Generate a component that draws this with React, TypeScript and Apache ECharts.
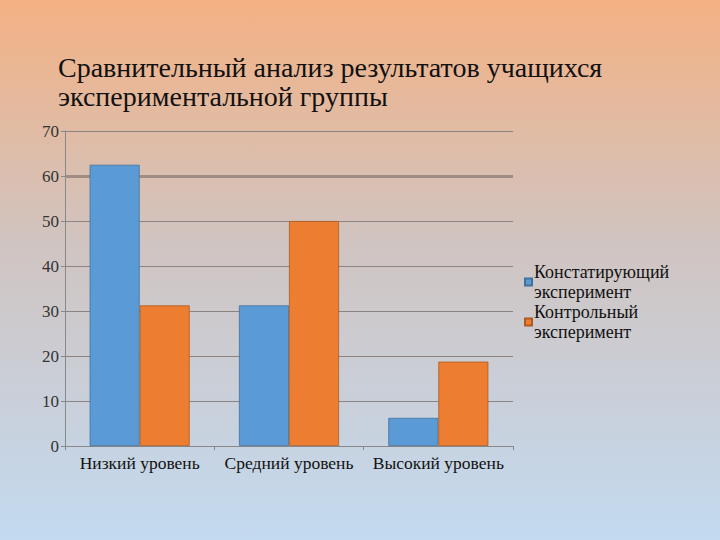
import React, { useEffect, useRef } from "react";
import * as echarts from "echarts";

const categories = ["Низкий уровень", "Средний уровень", "Высокий уровень"];
const seriesNames = ["Констатирующий эксперимент", "Контрольный эксперимент"];
const legendLabels = ["Констатирующий\nэксперимент", "Контрольный\nэксперимент"];
const ascertainingValues = [62.5, 31.25, 6.25];
const controlValues = [31.25, 50, 18.75];
const yTicks = { min: 0, max: 70, interval: 10 };
const titleLines = ["Сравнительный анализ результатов учащихся", "экспериментальной группы"];

const FONT = "Times New Roman, Liberation Serif, serif";

export default function App() {
  const ref = useRef<HTMLDivElement>(null);
  useEffect(() => {
    if (!ref.current) return;
    const chart = echarts.init(ref.current, undefined, { renderer: "svg" });
    chart.setOption({
      animation: false,
      backgroundColor: {
        type: "linear",
        x: 0, y: 0, x2: 0, y2: 1,
        colorStops: [
          { offset: 0, color: "#F4B183" },
          { offset: 0.45, color: "#D0C4C1" },
          { offset: 1, color: "#C3DAF0" },
        ],
      },
      title: {
        text: titleLines.join("\n"),
        left: 53,
        top: 48,
        textStyle: {
          fontFamily: FONT,
          fontSize: 28,
          fontWeight: "normal",
          color: "#111",
          lineHeight: 29,
        },
      },
      legend: {
        orient: "vertical",
        left: 519,
        top: 257,
        itemWidth: 7,
        itemHeight: 7,
        itemGap: 0,
        icon: "rect",
        data: seriesNames,
        formatter: (name: string) => legendLabels[seriesNames.indexOf(name)],
        textStyle: {
          fontFamily: FONT,
          fontSize: 18,
          lineHeight: 20,
          color: "#111",
          padding: [0, 0, 0, -3],
        },
      },
      grid: { left: 65, right: 207, top: 131, bottom: 94 },
      xAxis: {
        type: "category",
        data: categories,
        axisLine: { lineStyle: { color: "#888", width: 1 } },
        axisTick: { show: true, length: 4, lineStyle: { color: "#888" } },
        axisLabel: {
          interval: 0,
          fontFamily: FONT,
          fontSize: 17.5,
          color: "#111",
          margin: 8,
        },
      },
      yAxis: {
        type: "value",
        min: yTicks.min,
        max: yTicks.max,
        interval: yTicks.interval,
        axisLine: { show: true, lineStyle: { color: "#888", width: 1 } },
        axisTick: { show: true, length: 4, lineStyle: { color: "#888" } },
        axisLabel: {
          fontFamily: FONT,
          fontSize: 17,
          color: "#333",
          margin: 6,
        },
        splitLine: { lineStyle: { color: "#8C8480", width: 1 } },
      },
      series: [
        {
          name: seriesNames[0],
          type: "bar",
          data: ascertainingValues,
          barGap: "0%",
          barCategoryGap: "33%",
          itemStyle: { color: "#5B9BD5", borderColor: "#41719C", borderWidth: 0.8 },
          z: 3,
          markLine: {
            silent: true,
            symbol: "none",
            label: { show: false },
            lineStyle: { color: "#A08C82", width: 3, type: "solid" },
            data: [{ yAxis: 60 }],
            z: 1,
          },
        },
        {
          name: seriesNames[1],
          type: "bar",
          data: controlValues,
          barGap: "0%",
          barCategoryGap: "33%",
          itemStyle: { color: "#ED7D31", borderColor: "#AE5A21", borderWidth: 0.8 },
          z: 3,
        },
      ],
    });
    return () => chart.dispose();
  }, []);
  return <div ref={ref} style={{ width: 720, height: 540, position: "fixed", left: 0, top: 0 }} />;
}
